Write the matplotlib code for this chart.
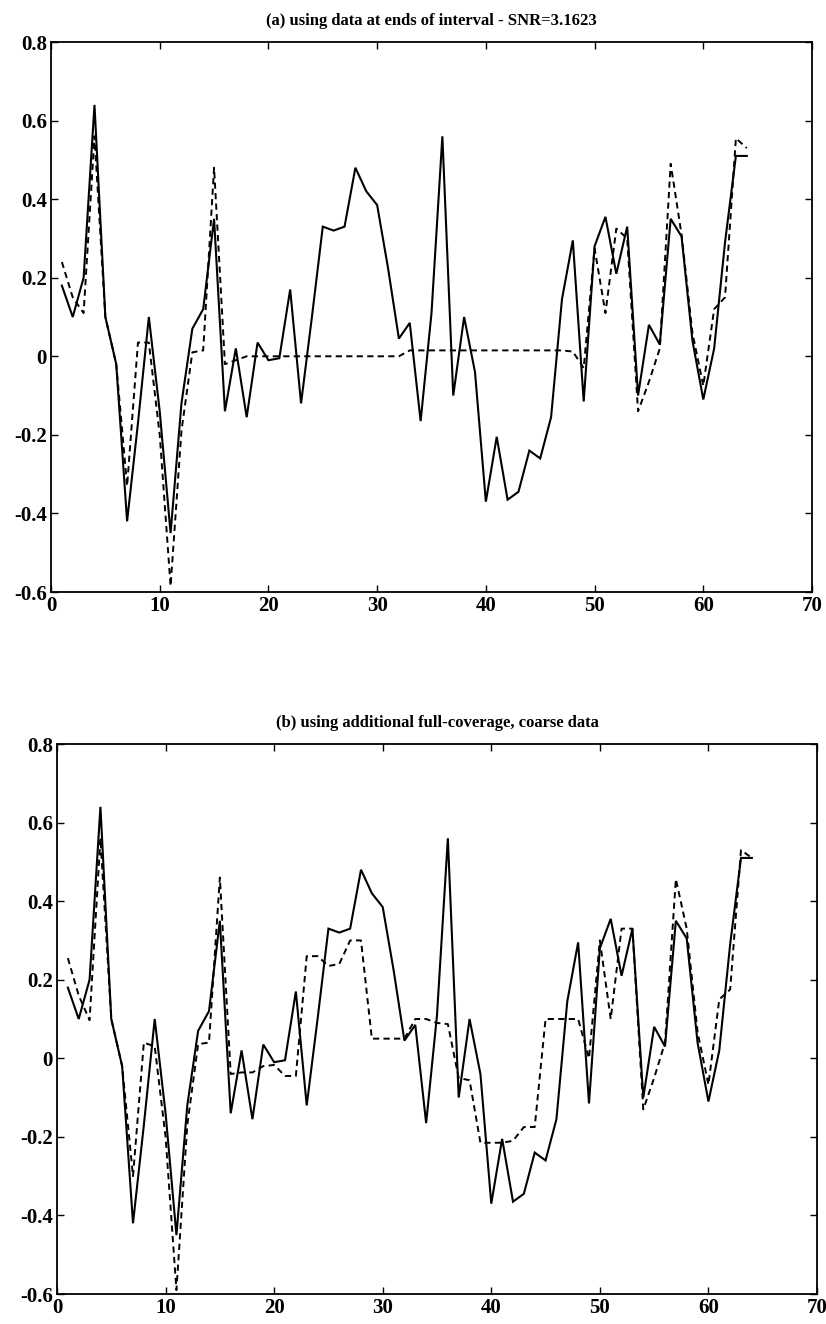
import numpy as np
import matplotlib
matplotlib.use("Agg")
import matplotlib.pyplot as plt

## Data (sample index 1..64)
idx = np.arange(1, 65)

# true signal (solid), same in both panels
truth = [0.18, 0.10, 0.20, 0.64, 0.10, -0.02, -0.42, -0.17, 0.10, -0.14,
         -0.45, -0.12, 0.07, 0.12, 0.35, -0.14, 0.02, -0.155, 0.035, -0.01,
         -0.005, 0.17, -0.12, 0.10, 0.33, 0.32, 0.33, 0.48, 0.42, 0.385,
         0.225, 0.045, 0.085, -0.165, 0.11, 0.56, -0.10, 0.10, -0.04, -0.37,
         -0.205, -0.365, -0.345, -0.24, -0.26, -0.155, 0.145, 0.295, -0.115, 0.28,
         0.355, 0.21, 0.33, -0.10, 0.08, 0.03, 0.35, 0.305, 0.04, -0.11,
         0.02, 0.29, 0.51, 0.51]

# estimate (a): data at ends of interval
est_a = [0.24, 0.15, 0.11, 0.56, 0.10, -0.02, -0.33, 0.035, 0.035, -0.20,
         -0.585, -0.19, 0.01, 0.015, 0.48, -0.02, -0.01, 0.0, 0.0, 0.0,
         0.0, 0.0, 0.0, 0.0, 0.0, 0.0, 0.0, 0.0, 0.0, 0.0,
         0.0, 0.0, 0.015, 0.015, 0.015, 0.015, 0.015, 0.015, 0.015, 0.015,
         0.015, 0.015, 0.015, 0.015, 0.015, 0.015, 0.015, 0.012, -0.03, 0.275,
         0.11, 0.325, 0.30, -0.14, -0.065, 0.02, 0.49, 0.31, 0.06, -0.075,
         0.12, 0.15, 0.555, 0.53]

# estimate (b): with additional coarse data
est_b = [0.255, 0.16, 0.097, 0.56, 0.10, -0.02, -0.30, 0.04, 0.03, -0.20,
         -0.59, -0.17, 0.036, 0.04, 0.46, -0.04, -0.036, -0.036, -0.02, -0.017,
         -0.045, -0.045, 0.26, 0.26, 0.235, 0.24, 0.30, 0.30, 0.05, 0.05,
         0.05, 0.05, 0.10, 0.10, 0.09, 0.087, -0.05, -0.056, -0.215, -0.215,
         -0.215, -0.21, -0.175, -0.175, 0.10, 0.10, 0.10, 0.10, 0.0, 0.30,
         0.10, 0.33, 0.33, -0.13, -0.05, 0.04, 0.456, 0.33, 0.067, -0.067,
         0.15, 0.175, 0.53, 0.51]

titles = ["(a) using data at ends of interval - SNR=3.1623",
          "(b) using additional full-coverage, coarse data"]

xticks = [0, 10, 20, 30, 40, 50, 60, 70]
yticks = [-0.6, -0.4, -0.2, 0, 0.2, 0.4, 0.6, 0.8]
ylabels = ["-0.6", "-0.4", "-0.2", "0", "0.2", "0.4", "0.6", "0.8"]

plt.rcParams['font.family'] = ['Liberation Serif', 'DejaVu Serif']
plt.rcParams['font.weight'] = 'bold'

W, H = 826, 1324
fig = plt.figure(figsize=(W / 100., H / 100.), dpi=100)

# axes boxes in pixels: left, top, right, bottom
boxes = [(51, 42, 812, 592), (57, 744, 817, 1294)]
estimates = [est_a, est_b]

for box, est, title in zip(boxes, estimates, titles):
    l, t, r, b = box
    ax = fig.add_axes([l / W, 1 - b / H, (r - l) / W, (b - t) / H])
    ax.plot(idx, truth, color='black', lw=1.5, solid_joinstyle='miter')
    ax.plot(idx, est, color='black', lw=1.4, linestyle=(0, (3.2, 2.2)))
    ax.set_xlim(0, 70)
    ax.set_ylim(-0.6, 0.8)
    ax.set_xticks(xticks)
    ax.set_yticks(yticks)
    ax.set_yticklabels(ylabels)
    ax.tick_params(direction='in', top=True, right=True, length=5, width=1,
                   labelsize=15, pad=3)
    for lab in ax.get_xticklabels() + ax.get_yticklabels():
        lab.set_fontweight('bold')
    for sp in ax.spines.values():
        sp.set_linewidth(1.3)
    ax.set_title(title, fontsize=12, fontweight='bold', pad=12)

fig.savefig('out.png', dpi=100)
